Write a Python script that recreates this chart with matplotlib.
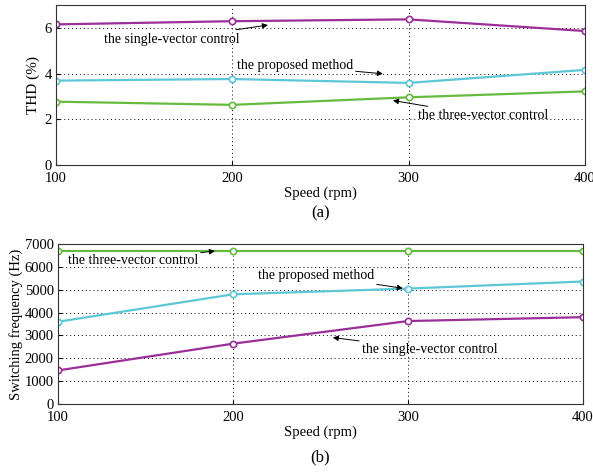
import matplotlib.pyplot as plt

plt.rcParams["font.family"] = ["Liberation Serif", "DejaVu Serif"]
plt.rcParams["font.size"] = 10

speed = [100, 200, 300, 400]

thd_single = [6.16, 6.30, 6.38, 5.87]
thd_proposed = [3.70, 3.77, 3.60, 4.17]
thd_three = [2.78, 2.64, 2.97, 3.23]

fsw_three = [6700, 6700, 6700, 6700]
fsw_proposed = [3600, 4800, 5050, 5360]
fsw_single = [1470, 2640, 3630, 3800]

PURPLE = "#9a2f98"
CYAN = "#5cc8d6"
GREEN = "#66bb3f"


def draw(ax, x, y, color):
    ax.plot(x, y, color=color, lw=1.6, marker="o", ms=4.5,
            mfc="white", mec=color, mew=1.2)


def note(ax, text, xy, xytext, ha):
    ax.annotate(text, xy=xy, xytext=xytext, ha=ha, va="center", fontsize=10,
                arrowprops=dict(arrowstyle="-|>", color="k", lw=0.7,
                                shrinkA=0, shrinkB=0, mutation_scale=8))


def style(ax):
    ax.set_xlim(100, 400)
    ax.set_xticks(speed)
    ax.grid(True, color="k", linestyle=(0, (1, 3)), lw=0.7)
    ax.tick_params(direction="in", length=3, labelsize=10.5)
    ax.tick_params(axis="x", pad=5)
    ax.tick_params(axis="y", pad=3)
    for s in ax.spines.values():
        s.set_color("#333333")
        s.set_linewidth(0.8)


fig = plt.figure(figsize=(5.93, 4.72), dpi=100)

ax1 = fig.add_axes([0.0944, 0.650, 0.892, 0.339])
draw(ax1, speed, thd_single, PURPLE)
draw(ax1, speed, thd_proposed, CYAN)
draw(ax1, speed, thd_three, GREEN)
style(ax1)
ax1.set_ylim(0, 7)
ax1.set_yticks([0, 2, 4, 6])
ax1.set_xlabel("Speed (rpm)", labelpad=1, fontsize=10.5)
ax1.set_ylabel("THD (%)", labelpad=3, fontsize=11)
note(ax1, "the single-vector control", (220.2, 6.13), (204.3, 5.52), "right")
note(ax1, "the proposed method", (285.4, 4.0), (268.4, 4.35), "right")
note(ax1, "the three-vector control", (291.1, 2.83), (305.3, 2.17), "left")
fig.text(0.54, 0.548, "(a)", ha="center", va="center", fontsize=12)

ax2 = fig.add_axes([0.0978, 0.144, 0.885, 0.339])
draw(ax2, speed, fsw_three, GREEN)
draw(ax2, speed, fsw_proposed, CYAN)
draw(ax2, speed, fsw_single, PURPLE)
style(ax2)
ax2.set_ylim(0, 7000)
ax2.set_yticks(range(0, 7001, 1000))
ax2.set_xlabel("Speed (rpm)", labelpad=1, fontsize=10.5)
ax2.set_ylabel("Switching frequency (Hz)", labelpad=1, fontsize=10.5)
note(ax2, "the three-vector control", (189.7, 6692), (180.0, 6296), "right")
note(ax2, "the proposed method", (297.1, 5063), (280.6, 5636), "right")
note(ax2, "the single-vector control", (257.1, 2906), (273.7, 2378), "left")
fig.text(0.54, 0.030, "(b)", ha="center", va="center", fontsize=12)

fig.savefig("out.png", dpi=100)
